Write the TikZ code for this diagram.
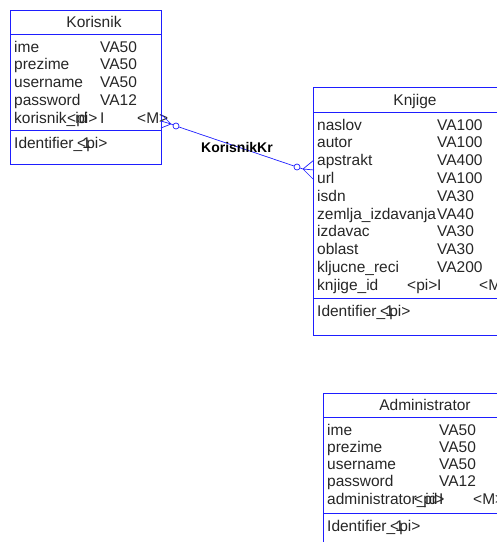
\documentclass[tikz,border=0pt]{standalone}
\usepackage{fontspec}
\setmainfont{Liberation Sans}
\definecolor{pdblue}{RGB}{30,30,255}
\begin{document}
\begin{tikzpicture}[x=1pt,y=-1pt,
  ent/.style={draw=pdblue, line width=0.8pt},
  txt/.style={anchor=base west, inner sep=0pt, font=\fontsize{15.5}{18}\selectfont, text=black!85},
  ttl/.style={anchor=base, inner sep=0pt, font=\fontsize{15.5}{18}\selectfont, text=black!85},
  rel/.style={draw=pdblue, line width=0.7pt},
  opt/.style={draw=pdblue, line width=0.7pt, shape=circle, minimum size=6pt, inner sep=0pt},
  lbl/.style={inner sep=0pt, font=\fontsize{14}{16}\bfseries\selectfont, text=black}]
\useasboundingbox (0,0) rectangle (497,542);
\clip (0,0) rectangle (497,542);

% ---------- Korisnik ----------
\draw[ent] (10,10) rectangle (161,164);
\draw[ent] (10,34) -- (161,34);
\draw[ent] (10,130) -- (161,130);
\node[ttl] (kort) at (94,27.5) {Korisnik};
\foreach \n/\t [count=\i from 0] in {ime/VA50,prezime/VA50,username/VA50,password/VA12}{
  \node[txt] (kora\i) at (14,52+\i*17.8) {\n};
  \node[txt] (kory\i) at (100,52+\i*17.8) {\t};
}
\node[txt] (korid) at (14,123.2) {korisnik\_id};
\node[txt] (korpi) at (67,123.2) {<pi>};
\node[txt] (kori) at (100,123.2) {I};
\node[txt] (korm) at (137,123.2) {<M>};
\node[txt] (korident) at (14,148.5) {Identifier\_1};
\node[txt] (koridpi) at (77,148.5) {<pi>};

% ---------- Knjige ----------
\draw[ent] (313,87) rectangle (530,335);
\draw[ent] (313,112) -- (530,112);
\draw[ent] (313,298) -- (530,298);
\node[ttl] (knjt) at (415,105) {Knjige};
\foreach \n/\t [count=\i from 0] in {naslov/VA100,autor/VA100,apstrakt/VA400,url/VA100,isdn/VA30,zemlja\_izdavanja/VA40,izdavac/VA30,oblast/VA30,kljucne\_reci/VA200}{
  \node[txt] (knja\i) at (317,130+\i*17.8) {\n};
  \node[txt] (knjy\i) at (437,130+\i*17.8) {\t};
}
\node[txt] (knjid) at (317,290.2) {knjige\_id};
\node[txt] (knjpi) at (407,290.2) {<pi>};
\node[txt] (knji) at (437,290.2) {I};
\node[txt] (knjm) at (479,290.2) {<M>};
\node[txt] (knjident) at (317,316) {Identifier\_1};
\node[txt] (knjidpi) at (380,316) {<pi>};

% ---------- Administrator ----------
\draw[ent] (323,393) rectangle (530,560);
\draw[ent] (323,417) -- (530,417);
\draw[ent] (323,513) -- (530,513);
\node[ttl] (admt) at (425,410.5) {Administrator};
\foreach \n/\t [count=\i from 0] in {ime/VA50,prezime/VA50,username/VA50,password/VA12}{
  \node[txt] (adma\i) at (327,435+\i*17.2) {\n};
  \node[txt] (admy\i) at (439,435+\i*17.2) {\t};
}
\node[txt] (admid) at (327,504.4) {administrator\_id};
\node[txt] (admpi) at (414,504.4) {<pi>};
\node[txt] (admi) at (439,504.4) {I};
\node[txt] (admm) at (473,504.4) {<M>};
\node[txt] (admident) at (327,531.5) {Identifier\_1};
\node[txt] (admidpi) at (390,531.5) {<pi>};

% ---------- Relationship ----------
\coordinate (ka) at (161,114);
\coordinate (kb) at (161,121);
\coordinate (kc) at (161,128);
\coordinate (kp) at (171,124);
\node[opt] (ko) at (176,126) {};
\coordinate (ja) at (314,160);
\coordinate (jb) at (314,170);
\coordinate (jc) at (314,180);
\coordinate (jp) at (303,169);
\node[opt] (jo) at (297,167) {};
\draw[rel] (ka) -- (kp) (kb) -- (kp) (kc) -- (kp) (kp) -- (ko);
\draw[rel] (ko) -- (jo);
\draw[rel] (jo) -- (jp) (jp) -- (ja) (jp) -- (jb) (jp) -- (jc);
\node[lbl] (rell) at (237,147) {KorisnikKr};
\end{tikzpicture}
\end{document}
